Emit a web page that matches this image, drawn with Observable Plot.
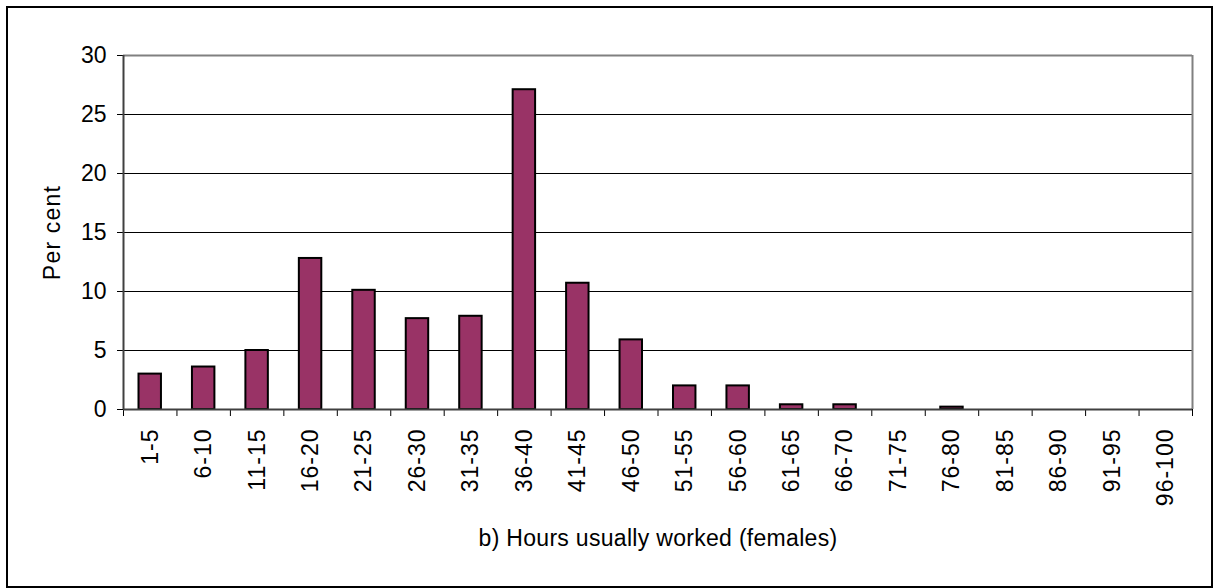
<!DOCTYPE html>
<html><head><meta charset="utf-8">
<script src="https://cdn.jsdelivr.net/npm/d3@7"></script>
<script src="https://cdn.jsdelivr.net/npm/@observablehq/plot@0.6"></script>
<style>
body{margin:0;background:#fff}
#frame{position:absolute;left:6px;top:6px;width:1207px;height:582px;border:2px solid #000;box-sizing:border-box}
#chart{position:absolute;left:0;top:0}
.xlab text{letter-spacing:1px}
.ylab text{letter-spacing:1.2px}
.ttl text{letter-spacing:0.3px}
</style></head><body><div id="frame"></div><div id="chart"></div>
<script>
const categories = ["1-5","6-10","11-15","16-20","21-25","26-30","31-35","36-40","41-45","46-50","51-55","56-60","61-65","66-70","71-75","76-80","81-85","86-90","91-95","96-100"];
const values = [3.0,3.6,5.0,12.8,10.1,7.7,7.9,27.1,10.7,5.9,2.0,2.0,0.4,0.4,0,0.2,0,0,0,0];
const yTicks = [0,5,10,15,20,25,30];
const xLabel = "b) Hours usually worked (females)";
const yLabel = "Per cent";
const data = categories.map((c,i)=>({i, cat:c, value: values[i]}));
const half = 0.21;
const plot = Plot.plot({
 width:1213, height:588, marginLeft:123, marginRight:21, marginTop:55, marginBottom:179,
 style:{fontFamily:"'Liberation Sans', Arial, sans-serif", fontSize:"23px", background:"transparent", color:"#000"},
 x:{type:"linear", domain:[0,categories.length], ticks:d3.range(0,categories.length+1), tickFormat:()=>"", tickSize:7, label:null, axis:"bottom"},
 y:{domain:[0,30], ticks:yTicks, tickSize:6, tickPadding:11, label:null},
 marks:[
   Plot.ruleY(yTicks.slice(1,-1), {stroke:"#000", strokeWidth:1}),
   Plot.ruleY([30], {stroke:"#808080", strokeWidth:2}),
   Plot.ruleX([categories.length], {stroke:"#808080", strokeWidth:2}),
   Plot.rectY(data.filter(d=>d.value>0), {x1: d=>d.i+0.5-half, x2: d=>d.i+0.5+half, y:"value", fill:"#993366", stroke:"#000", strokeWidth:2}),
   Plot.ruleX([0], {stroke:"#404040", strokeWidth:2}),
   Plot.ruleY([0], {stroke:"#404040", strokeWidth:2}),
   Plot.text(data, {x: d=>d.i+0.5, y:0, text:"cat", rotate:-90, textAnchor:"end", dy:19, fill:"#000", fontSize:23, className:"xlab"}),
   Plot.text([yLabel], {frameAnchor:"left", textAnchor:"middle", dx:-71, rotate:-90, fill:"#000", fontSize:23, className:"ylab"}),
   Plot.text([xLabel], {frameAnchor:"bottom", textAnchor:"middle", dy:136, fill:"#000", fontSize:23, className:"ttl"})
 ]
});
document.getElementById("chart").appendChild(plot);
</script></body></html>
